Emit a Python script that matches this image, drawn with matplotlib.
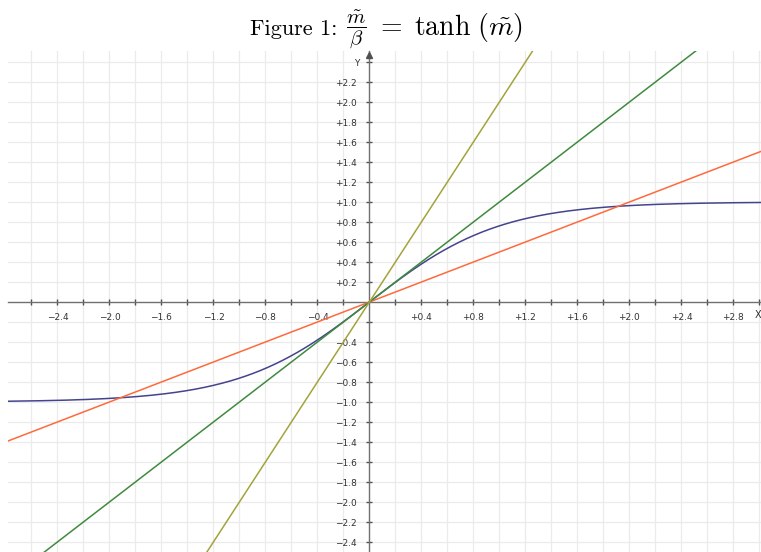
import numpy as np
import matplotlib
matplotlib.use('Agg')
import matplotlib.pyplot as plt

# slopes 1/beta of the straight lines m/beta
betas = [2.0, 1.0, 0.5]
line_colors = ['#ff6a3d', '#3f8a3f', '#a3a33c']
tanh_color = '#44448e'

x_ticks = [-2.6, -2.4, -2.2, -2.0, -1.8, -1.6, -1.4, -1.2, -1.0, -0.8, -0.6, -0.4, -0.2,
           0.2, 0.4, 0.6, 0.8, 1.0, 1.2, 1.4, 1.6, 1.8, 2.0, 2.2, 2.4, 2.6, 2.8, 3.0]
x_labelled = [-2.4, -2.0, -1.6, -1.2, -0.8, -0.4, 0.4, 0.8, 1.2, 1.6, 2.0, 2.4, 2.8]
y_ticks = [-2.4, -2.2, -2.0, -1.8, -1.6, -1.4, -1.2, -1.0, -0.8, -0.6, -0.4, -0.2,
           0.2, 0.4, 0.6, 0.8, 1.0, 1.2, 1.4, 1.6, 1.8, 2.0, 2.2, 2.4]
y_hidden = [-0.2, 2.4]

xmin, xmax = -2.78, 3.012
ymin, ymax = -2.5, 2.51


def fmt(v):
    s = f'{abs(v):.1f}'
    return ('+' if v > 0 else '\u2212') + s


plt.rcParams['mathtext.fontset'] = 'cm'
fig = plt.figure(figsize=(7.61, 5.52), dpi=100)
ax = fig.add_axes([8 / 761, 0, 753 / 761, 501 / 552])
ax.set_xlim(xmin, xmax)
ax.set_ylim(ymin, ymax)

# light grid every 0.2
for v in x_ticks:
    ax.axvline(v, color='#ebebeb', lw=0.9, zorder=0)
for v in y_ticks:
    ax.axhline(v, color='#ebebeb', lw=0.9, zorder=0)

for s in ['top', 'right']:
    ax.spines[s].set_visible(False)
ax.spines['left'].set_position('zero')
ax.spines['bottom'].set_position('zero')
for s in ['left', 'bottom']:
    ax.spines[s].set_color('#707070')
    ax.spines[s].set_linewidth(1.0)

ax.set_xticks(x_ticks)
ax.set_xticklabels([fmt(v) if v in x_labelled else '' for v in x_ticks])
ax.set_yticks(y_ticks)
ax.set_yticklabels(['' if v in y_hidden else fmt(v) for v in y_ticks])
ax.tick_params(direction='inout', length=4, width=1, color='#505050',
               labelsize=6.5, labelcolor='#333333')
ax.tick_params(axis='x', pad=6)
ax.tick_params(axis='y', pad=7)

# arrow on the y axis and axis names
ax.plot([0], [ymax - 0.04], marker='^', color='#505050', ms=4, clip_on=False, zorder=5)
ax.text(-0.08, 2.39, 'Y', fontsize=6.5, color='#333333', ha='right', va='center')
ax.text(2.99, -0.13, 'X', fontsize=7, color='#333333', ha='center', va='center')

xs = np.linspace(xmin, xmax, 600)
ax.plot(xs, np.tanh(xs), color=tanh_color, lw=1.1, zorder=3)
for b, c in zip(betas, line_colors):
    ax.plot(xs, xs / b, color=c, lw=1.1, zorder=3)

# title in three pieces: caption, fraction, right-hand side
fig.text(250 / 761, 1 - 35 / 552, 'Figure 1:', fontfamily='cmr10', fontsize=16,
         ha='left', va='baseline')
fig.text(346 / 761, 1 - 29 / 552, r'$\dfrac{\tilde{m}}{\beta}$', fontsize=15,
         ha='left', va='center')
fig.text(376 / 761, 1 - 35 / 552, r'$=\;\tanh\,(\tilde{m})$', fontsize=20,
         ha='left', va='baseline')

fig.savefig('out.png', dpi=100)
